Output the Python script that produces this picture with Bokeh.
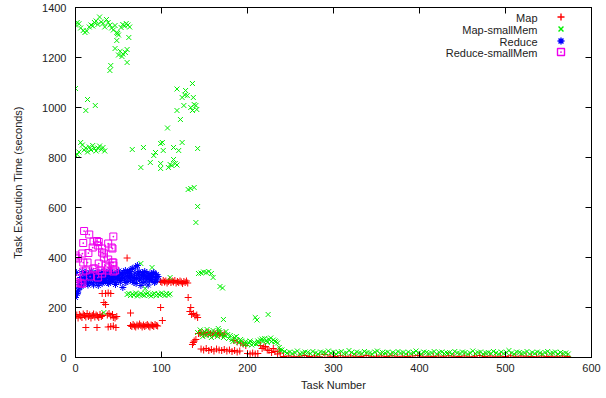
from bokeh.plotting import figure
from bokeh.models import LinearAxis, Range1d, Label, FixedTicker
from bokeh.embed import file_html
from bokeh.resources import INLINE

# ---------------- data ----------------
x_ticks = [0, 100, 200, 300, 400, 500, 600]
y_ticks = [0, 200, 400, 600, 800, 1000, 1200, 1400]
series_names = ["Map", "Map-smallMem", "Reduce", "Reduce-smallMem"]

map_x = [0, 1.5, 3, 4.5, 6, 7.5, 9, 10.5, 12, 13.5, 15, 16.5, 18, 19.5, 21, 22.5, 24, 25.5, 27, 28.5, 30, 31.5,
         37, 39, 41, 43, 44, 46, 48,
         12, 25, 38, 41, 44, 47, 33, 35, 31, 35, 38, 41, 60, 64,
         64, 65.5, 67, 68.5, 70, 71.5, 73, 74.5, 76, 77.5, 79, 80.5, 82, 83.5, 85, 86.5, 88, 89.5, 91, 92.5, 94, 95.5,
         99, 101,
         99, 100.5, 102, 103.5, 105, 106.5, 108, 109.5, 111, 112.5, 114, 115.5, 117, 118.5, 120, 121.5, 123, 124.5,
         126, 127.5, 129, 130.5,
         131, 134, 133, 135, 137, 139, 141, 142, 143, 137, 136, 138, 140,
         145, 147, 149, 151, 153, 155, 157, 159, 161, 163, 165, 167, 169, 171, 173,
         146, 149, 152, 155, 158, 161, 164, 167, 170, 173, 176, 179, 182, 185, 188, 191,
         184, 188, 192, 195, 198, 200, 203, 206, 209, 212, 215, 217, 219, 221, 223, 225, 228, 230, 232, 235, 237, 238,
         242, 248, 254, 260, 266, 272, 278, 284, 290, 296, 302, 308, 314, 320, 326, 332, 338, 344, 350, 356,
         362, 368, 374, 380, 386, 392, 398, 404, 410, 416, 422, 428, 434, 440, 446, 452, 458, 464, 470, 476,
         482, 488, 494, 500, 506, 512, 518, 524, 530, 536, 542, 548, 554, 560, 566, 572]
map_y = [164, 170, 158, 172, 166, 160, 174, 168, 162, 176, 164, 170, 158, 168, 174, 162, 170, 166, 160, 172, 164, 168,
         170, 176, 166, 172, 160, 158, 164,
         120, 120, 122, 124, 126, 120, 220, 212, 256, 256, 258, 256, 398, 178,
         128, 124, 132, 126, 122, 130, 126, 134, 128, 122, 130, 124, 128, 132, 126, 122, 130, 128, 124, 132, 128, 126,
         200, 148,
         304, 300, 308, 302, 306, 298, 304, 310, 300, 306, 302, 308, 298, 304, 300, 306, 302, 296,
         304, 300, 306, 298,
         240, 200, 184, 172, 176, 166, 170, 160, 96, 60, 52, 66, 72,
         96, 100, 92, 98, 94, 100, 96, 90, 98, 94, 100, 92, 96, 88, 94,
         34, 30, 36, 28, 32, 26, 34, 30, 28, 32, 26, 30, 24, 28, 22, 26,
         68, 62, 58, 54, 48, 16, 14, 18, 14, 16, 48, 36, 42, 44, 30, 28, 20, 36, 24, 14, 30, 18,
         4, 6, 3, 5, 8, 4, 6, 3, 12, 5, 4, 7, 3, 6, 5, 4, 8, 3, 5, 6,
         4, 7, 3, 5, 4, 6, 8, 3, 5, 4, 6, 3, 7, 5, 4, 6, 3, 5, 8, 4,
         6, 3, 5, 4, 7, 3, 6, 5, 4, 3, 6, 4, 5, 3, 6, 4]

mapsm_x = [0, 2, 4, 6, 9, 11, 13, 16, 18, 20, 22, 24, 26, 28, 30, 32, 34, 36, 38, 40, 42, 44, 46, 48, 50, 53, 55, 57, 59, 61, 63,
           49, 48, 62, 46, 52, 55, 58, 60, 50, 54, 41, 40, 60,
           0, 14, 12, 23,
           0, 2, 4, 6, 8, 10, 12, 14, 16, 18, 20, 22, 24, 26, 28, 30, 32, 34, 66, 79,
           76, 87, 91, 93, 99, 101, 99, 99, 102, 107, 108, 110, 112, 114, 116, 118, 120, 114, 124, 118, 118, 122, 124,
           126, 128, 130, 127, 134, 136, 137, 138, 136, 140, 141, 142, 134, 131, 138, 142, 140,
           60, 62, 64, 66, 68, 70, 72, 74, 76, 78, 80, 82, 84, 86, 88, 90, 92, 94, 96, 98, 100, 102, 104, 106, 108, 110,
           76, 89, 110, 81, 33, 143, 146, 149, 152, 155, 158, 160, 168, 171, 172, 166, 209, 211, 224,
           142, 145, 147, 150, 152, 155, 157, 160, 163, 165, 168, 170, 172, 175, 178, 180, 182, 185, 188, 190,
           192, 195, 198, 200, 202, 205, 208, 210, 212, 215, 218, 220, 222, 225, 228, 230, 233, 235, 237, 238,
           148, 153, 158, 162, 167, 173, 177, 183, 187, 193, 197, 203, 207, 213, 217, 223, 227, 232,
           240, 243, 246, 249, 252, 255, 258, 261, 264, 267, 270, 273, 276, 279, 282, 285, 288, 291, 294, 297,
           300, 303, 306, 309, 312, 315, 318, 321, 324, 327, 330, 333, 336, 339, 342, 345, 348, 351, 354, 357,
           360, 363, 366, 369, 372, 375, 378, 381, 384, 387, 390, 393, 396, 399, 402, 405, 408, 411, 414, 417,
           420, 423, 426, 429, 432, 435, 438, 441, 444, 447, 450, 453, 456, 459, 462, 465, 468, 471, 474, 477,
           480, 483, 486, 489, 492, 495, 498, 501, 504, 507, 510, 513, 516, 519, 522, 525, 528, 531, 534, 537,
           540, 543, 546, 549, 552, 555, 558, 561, 564, 567, 570, 573]
mapsm_y = [1330, 1340, 1335, 1318, 1308, 1300, 1306, 1322, 1330, 1326, 1340, 1346, 1332, 1362, 1342, 1336, 1322, 1352,
           1340, 1330, 1318, 1310, 1328, 1300, 1290, 1320, 1332, 1326, 1336, 1330, 1322,
           1296, 1268, 1280, 1236, 1225, 1214, 1220, 1232, 1210, 1204, 1168, 1148, 1180,
           1076, 1032, 988, 1008,
           808, 812, 822, 860, 850, 830, 838, 822, 842, 830, 848, 836, 826, 838, 846, 832, 840, 826, 832, 840,
           760, 780, 808, 820, 856, 860, 776, 756, 828, 918, 760, 772, 768, 792, 776, 770, 828, 840, 860, 988, 1074,
           952, 1040, 1008, 1068, 1048, 1050, 1000, 988, 1040, 1012, 1096, 1008, 992, 836, 676, 672, 680, 604, 540,
           252, 256, 248, 254, 250, 258, 246, 252, 256, 250, 248, 254, 258, 250, 246, 252, 256, 248, 254, 250, 258,
           252, 248, 256, 250, 254,
           376, 360, 320, 276, 180, 336, 338, 342, 340, 344, 336, 320, 284, 278, 152, 116, 160, 150, 172,
           100, 110, 96, 104, 88, 100, 92, 108, 96, 84, 100, 92, 80, 104, 76, 88, 72, 80, 68, 60,
           72, 56, 64, 52, 58, 50, 60, 54, 66, 70, 64, 76, 68, 72, 64, 70, 62, 58, 40, 30,
           84, 112, 80, 90, 108, 88, 92, 64, 84, 66, 52, 66, 56, 58, 74, 60, 78, 66,
           30, 24, 18, 22, 16, 20, 26, 14, 18, 22, 20, 16, 24, 18, 14, 22, 20, 16, 26, 18,
           22, 14, 20, 24, 16, 18, 28, 20, 14, 22, 18, 16, 24, 20, 18, 14, 22, 26, 16, 20,
           18, 22, 14, 20, 16, 24, 18, 20, 14, 22, 16, 20, 26, 18, 14, 22, 20, 16, 18, 24,
           14, 20, 22, 16, 18, 20, 14, 24, 18, 16, 22, 20, 14, 18, 26, 16, 20, 22, 14, 18,
           20, 16, 24, 18, 14, 22, 16, 20, 28, 18, 14, 22, 20, 16, 18, 24, 14, 20, 16, 22,
           18, 14, 20, 24, 16, 18, 22, 14, 20, 16, 18, 14]

red_x = [0, 1, 2, 3, 4, 5, 6, 7, 8, 9, 10, 11, 12, 13, 14, 15, 16, 17, 18, 19, 20, 21, 22, 23, 24, 25, 26, 27, 28, 29,
         30, 31, 32, 33, 34, 35, 36, 37, 38, 39, 40, 41, 42, 43, 44, 45, 46, 47, 48, 49, 50, 51, 52, 53, 54, 55, 56, 57,
         58, 59, 60, 61, 62, 63, 64, 65, 66, 67, 68, 69, 70, 71, 72, 73, 74, 75, 76, 77, 78, 79, 80, 81, 82, 83, 84, 85,
         86, 87, 88, 89, 90, 91, 92, 93, 94, 95, 96,
         0.5, 2.5, 4.5, 6.5, 8.5, 10.5, 12.5, 14.5, 16.5, 18.5, 20.5, 22.5, 24.5, 26.5, 28.5, 30.5, 32.5, 34.5, 36.5,
         38.5, 40.5, 42.5, 44.5, 46.5, 48.5, 50.5, 52.5, 54.5, 56.5, 58.5, 60.5, 62.5, 64.5, 66.5, 68.5, 70.5, 72.5,
         74.5, 76.5, 78.5, 80.5, 82.5, 84.5, 86.5, 88.5, 90.5, 92.5, 94.5]
red_y = [240, 340, 256, 270, 300, 280, 320, 290, 310, 330, 300, 320, 340, 310, 296, 330, 320, 300, 336, 312, 326, 290,
         318, 334, 306, 322, 340, 300, 316, 328, 310, 296, 332, 318, 344, 308, 324, 300, 336, 314, 328, 304, 320, 338,
         312, 326, 300, 318, 342, 310, 330, 316, 302, 334, 322, 280, 340, 314, 348, 326, 304, 336, 318, 344, 310, 330,
         356, 320, 300, 338, 362, 316, 368, 330, 344, 310, 288, 326, 340, 318, 334, 302, 322, 338, 314, 328, 306, 320,
         336, 312, 326, 340, 300, 318, 332, 310, 324,
         250, 262, 300, 284, 344, 306, 330, 290, 320, 346, 298, 334, 310, 288, 326, 342, 304, 316, 336, 296, 350, 312,
         330, 292, 322, 346, 308, 334, 318, 300, 340, 326, 352, 306, 322, 296, 338, 314, 330, 300, 344, 318, 290, 328,
         312, 336, 304, 322]

redsm_x = [10, 16, 9, 21, 25, 27, 26, 20, 31, 44, 38, 42, 43, 33, 15, 8, 0, 3, 0, 14, 9, 38, 33, 44, 35, 27, 43, 44,
           23, 21, 38, 9, 12, 37, 29, 46, 44, 31, 17, 26, 2, 3, 8, 6, 31]
redsm_y = [506, 492, 458, 464, 466, 462, 448, 440, 436, 484, 456, 440, 436, 416, 418, 416, 408, 396, 400, 380, 380,
           392, 400, 380, 368, 376, 380, 368, 356, 356, 360, 344, 348, 348, 348, 348, 344, 336, 324, 320, 316, 300,
           296, 296, 420]

# ---------------- figure ----------------
FONT = "Liberation Sans"
FRAME_W, FRAME_H = 516, 350
p = figure(width=606, height=398, x_range=Range1d(0, 600), y_range=Range1d(0, 1400),
           output_backend="svg", toolbar_location=None,
           min_border_left=75, min_border_right=15, min_border_top=7, min_border_bottom=41)
# pixel-like ranges over the frame, used only to place the key symbols
p.extra_x_ranges = {"key": Range1d(0, FRAME_W)}
p.extra_y_ranges = {"key": Range1d(0, FRAME_H)}
p.grid.visible = False
p.outline_line_color = "black"
p.outline_line_width = 1
p.xaxis.axis_label = "Task Number"
p.yaxis.axis_label = "Task Execution Time (seconds)"
p.xaxis.ticker = FixedTicker(ticks=x_ticks)
p.yaxis.ticker = FixedTicker(ticks=y_ticks)

for ax in [p.xaxis[0], p.yaxis[0]]:
    ax.major_tick_in = 6
    ax.major_tick_out = 0
    ax.minor_tick_line_color = None
    ax.axis_line_color = "black"
    ax.major_tick_line_color = "black"
    ax.major_label_text_font = FONT
    ax.major_label_text_font_size = "11px"
    ax.major_label_text_color = "#222222"
    ax.axis_label_text_font = FONT
    ax.axis_label_text_font_size = "11px"
    ax.axis_label_text_font_style = "normal"
    ax.axis_label_text_color = "#222222"
p.xaxis.major_label_standoff = 6
p.xaxis.axis_label_standoff = 4
p.yaxis.major_label_standoff = 9
p.yaxis.axis_label_standoff = 15

# mirrored inward ticks on top and right (no labels)
for side, ticks in (("above", x_ticks), ("right", y_ticks)):
    ax = LinearAxis(ticker=FixedTicker(ticks=ticks), major_tick_in=6, major_tick_out=0,
                    minor_tick_line_color=None, major_label_text_font_size="1px",
                    major_label_text_color=None, major_label_standoff=0,
                    axis_line_color="black", major_tick_line_color="black")
    p.add_layout(ax, side)

COLORS = ["#ff0000", "#00f000", "#0000ff", "#ee00ee"]
MARKERS = ["cross", "x", "asterisk", "square_dot"]
data = [(map_x, map_y), (mapsm_x, mapsm_y), (red_x, red_y), (redsm_x, redsm_y)]
for (xs, ys), mk, col in zip(data, MARKERS, COLORS):
    p.scatter(xs, ys, marker=mk, size=7, line_color=col, fill_color=None, line_width=1)

# gnuplot-style key: right-aligned text, symbol to the right
KEY_TEXT_X, KEY_SYM_X = 462, 485.5
row_center = [340, 328, 316, 305]
for name, mk, col, cy in zip(series_names, MARKERS, COLORS, row_center):
    p.scatter(x=[KEY_SYM_X], y=[cy + 0.5], marker=mk, size=7, line_color=col, fill_color=None, line_width=1.4,
              x_range_name="key", y_range_name="key")
    p.add_layout(Label(x=KEY_TEXT_X, y=cy, x_units="screen", y_units="screen", text=name, text_align="right",
                       text_baseline="middle", text_font=FONT, text_font_size="11px", text_color="#222222"))

open("out.html", "w").write(file_html(p, INLINE))
